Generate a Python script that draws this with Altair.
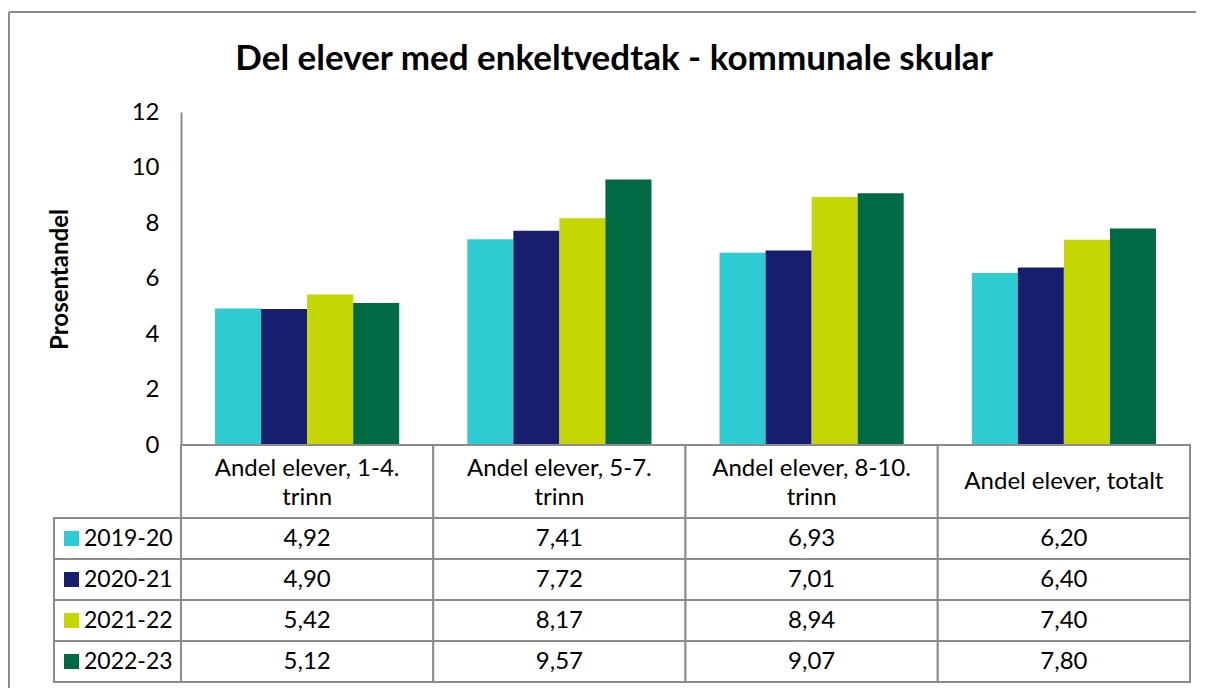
import altair as alt
import pandas as pd

# ---------------- data ----------------
categories = [
    "Andel elever, 1-4. trinn",
    "Andel elever, 5-7. trinn",
    "Andel elever, 8-10. trinn",
    "Andel elever, totalt",
]
header_labels = [
    "Andel elever, 1-4.\ntrinn",
    "Andel elever, 5-7.\ntrinn",
    "Andel elever, 8-10.\ntrinn",
    "Andel elever, totalt",
]
years = ["2019-20", "2020-21", "2021-22", "2022-23"]
colors = ["#2ECBD3", "#171E6D", "#C5D600", "#006A45"]
values_2019_20 = [4.92, 7.41, 6.93, 6.20]
values_2020_21 = [4.90, 7.72, 7.01, 6.40]
values_2021_22 = [5.42, 8.17, 8.94, 7.40]
values_2022_23 = [5.12, 9.57, 9.07, 7.80]
y_ticks = [0, 2, 4, 6, 8, 10, 12]

series = [values_2019_20, values_2020_21, values_2021_22, values_2022_23]
rows = []
for yr, vals in zip(years, series):
    for c, v in zip(categories, vals):
        rows.append({"cat": c, "year": yr, "value": v})
df = pd.DataFrame(rows)
hdr_df = pd.DataFrame({"cat": categories, "label": header_labels, "row": ["hdr"] * 4})
leg_df = pd.DataFrame({"year": years, "col": ["leg"] * 4})

# ---------------- layout constants ----------------
FONT = "Lato"
FS = 24
GRID = "#8c8c8c"
W, H = 1136, 570
LEG_W = 127
BAR_H = 333
HDR_B = 406

bar_x = alt.Scale(domain=categories, range=[LEG_W, W], paddingInner=0.27, paddingOuter=0.135)
tab_x = alt.Scale(domain=categories, range=[LEG_W, W], paddingInner=0, paddingOuter=0)
leg_x = alt.Scale(domain=["leg"], range=[0, LEG_W], paddingInner=0, paddingOuter=0)
sq_x = alt.Scale(domain=["leg"], range=[0, 35], paddingInner=0, paddingOuter=0)
lab_x = alt.Scale(domain=["leg"], range=[0, 60], paddingInner=0, paddingOuter=0)
hdr_y = alt.Scale(domain=["hdr"], range=[BAR_H, HDR_B], paddingInner=0, paddingOuter=0)
body_y = alt.Scale(domain=years, range=[HDR_B, H], paddingInner=0, paddingOuter=0)
color_scale = alt.Scale(domain=years, range=colors)

bars = alt.Chart(df).mark_bar().encode(
    x=alt.X("cat:N", scale=bar_x, axis=None, sort=categories),
    xOffset=alt.XOffset("year:N", scale=alt.Scale(domain=years, paddingInner=0, paddingOuter=0)),
    y=alt.Y(
        "value:Q",
        scale=alt.Scale(domain=[0, 12], range=[BAR_H, 0], nice=False),
        axis=alt.Axis(
            values=y_ticks, offset=-LEG_W, ticks=False, grid=False,
            domainColor=GRID, domainWidth=2,
            labelFont=FONT, labelFontSize=FS, labelColor="#000", labelPadding=22,
            title="Prosentandel", titleFont=FONT, titleFontSize=24, titleFontWeight="bold",
            titleColor="#000", titleX=-121, titleY=167, titleAngle=270,
            titleBaseline="middle", titleAlign="center",
        ),
    ),
    color=alt.Color("year:N", scale=color_scale, legend=None),
)

hdr_rect = alt.Chart(hdr_df).mark_rect(fill="white", stroke=GRID, strokeWidth=2).encode(
    x=alt.X("cat:N", scale=tab_x, axis=None),
    y=alt.Y("row:N", scale=hdr_y, axis=None),
)
hdr_text_multi = alt.Chart(hdr_df).transform_filter(
    "indexof(datum.label, '\\n') >= 0"
).mark_text(
    lineBreak="\n", font=FONT, fontSize=FS, lineHeight=29, baseline="middle", color="#000", dy=-13
).encode(
    x=alt.X("cat:N", scale=tab_x, axis=None),
    y=alt.Y("row:N", scale=hdr_y, axis=None),
    text="label:N",
)
hdr_text_single = alt.Chart(hdr_df).transform_filter(
    "indexof(datum.label, '\\n') < 0"
).mark_text(
    font=FONT, fontSize=FS, baseline="middle", color="#000"
).encode(
    x=alt.X("cat:N", scale=tab_x, axis=None),
    y=alt.Y("row:N", scale=hdr_y, axis=None),
    text="label:N",
)

cell_rect = alt.Chart(df).mark_rect(fill="white", stroke=GRID, strokeWidth=2).encode(
    x=alt.X("cat:N", scale=tab_x, axis=None),
    y=alt.Y("year:N", scale=body_y, axis=None),
)
cell_text = alt.Chart(df).transform_calculate(
    txt="replace(format(datum.value, '.2f'), '.', ',')"
).mark_text(font=FONT, fontSize=FS, baseline="middle", color="#000").encode(
    x=alt.X("cat:N", scale=tab_x, axis=None),
    y=alt.Y("year:N", scale=body_y, axis=None),
    text="txt:N",
)

leg_rect = alt.Chart(leg_df).mark_rect(fill="white", stroke=GRID, strokeWidth=2).encode(
    x=alt.X("col:N", scale=leg_x, axis=None),
    y=alt.Y("year:N", scale=body_y, axis=None),
)
leg_sq = alt.Chart(leg_df).mark_square(size=225, opacity=1, filled=True).encode(
    x=alt.X("col:N", scale=sq_x, axis=None),
    y=alt.Y("year:N", scale=body_y, axis=None),
    color=alt.Color("year:N", scale=color_scale, legend=None),
)
leg_text = alt.Chart(leg_df).mark_text(
    align="left", baseline="middle", font=FONT, fontSize=23, color="#000"
).encode(
    x=alt.X("col:N", scale=lab_x, axis=None),
    y=alt.Y("year:N", scale=body_y, axis=None),
    text="year:N",
)

frame_top = alt.Chart(leg_df).mark_rule(color=GRID, strokeWidth=2).encode(
    x=alt.value(-45), x2=alt.value(1142), y=alt.value(-100)
)
frame_left = alt.Chart(leg_df).mark_rule(color=GRID, strokeWidth=2).encode(
    x=alt.value(-45), y=alt.value(-100), y2=alt.value(576)
)

chart = alt.layer(
    frame_top, frame_left, bars, hdr_rect, hdr_text_multi, hdr_text_single,
    cell_rect, cell_text, leg_rect, leg_sq, leg_text
).resolve_scale(
    x="independent", y="independent"
).properties(
    width=W, height=H,
    padding={"left": 0, "top": 3, "right": 0, "bottom": 0},
    title=alt.TitleParams(
        text="Del elever med enkeltvedtak - kommunale skular",
        font=FONT, fontSize=35, fontWeight="bold", color="#000",
        anchor="middle", dx=-8, offset=-83, baseline="middle",
    ),
).configure(background="white").configure_view(strokeWidth=0, stroke="transparent")

chart.save("out.html", embed_options={"renderer": "svg", "actions": False})
